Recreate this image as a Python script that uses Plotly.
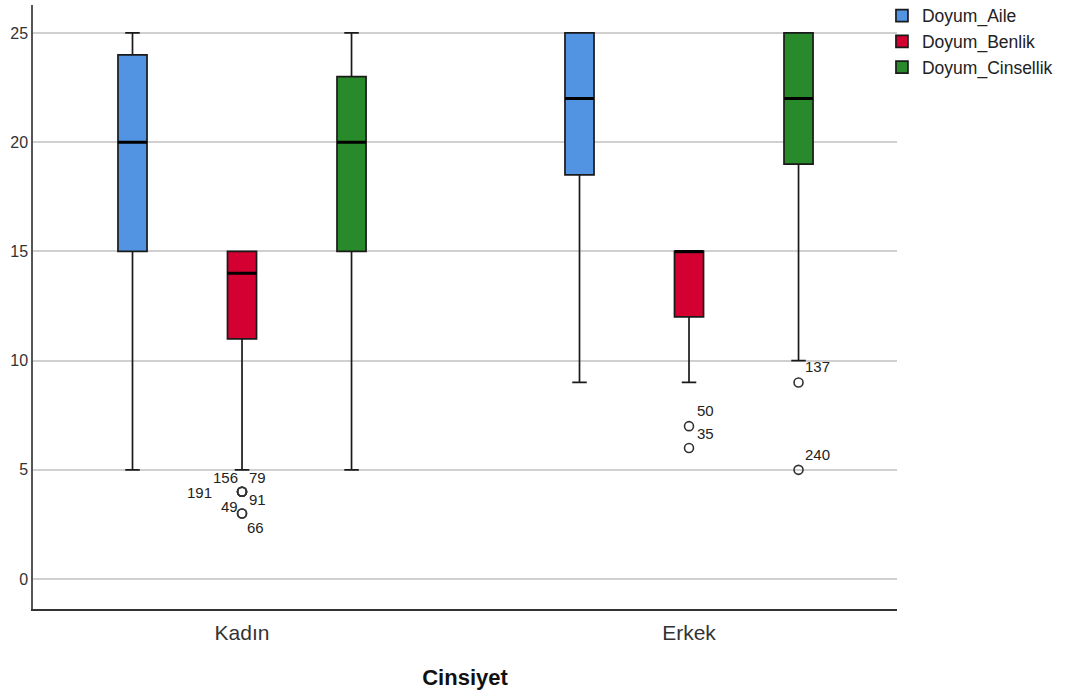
import plotly.graph_objects as go

# ---------------- data ----------------
categories = ["Kadın", "Erkek"]
series = ["Doyum_Aile", "Doyum_Benlik", "Doyum_Cinsellik"]

aile_lower = [5, 9]
aile_q1 = [15, 18.5]
aile_median = [20, 22]
aile_q3 = [24, 25]
aile_upper = [25, 25]

benlik_lower = [5, 9]
benlik_q1 = [11, 12]
benlik_median = [14, 15]
benlik_q3 = [15, 15]
benlik_upper = [15, 15]

cinsellik_lower = [5, 10]
cinsellik_q1 = [15, 19]
cinsellik_median = [20, 22]
cinsellik_q3 = [23, 25]
cinsellik_upper = [25, 25]

outlier_group = ["Kadın", "Kadın", "Kadın", "Kadın", "Kadın", "Kadın",
                 "Erkek", "Erkek", "Erkek", "Erkek"]
outlier_series = ["Doyum_Benlik"] * 8 + ["Doyum_Cinsellik"] * 2
outlier_values = [4, 4, 4, 4, 3, 3, 7, 6, 9, 5]
outlier_labels = ["156", "79", "191", "91", "49", "66", "50", "35", "137", "240"]

y_ticks = [0, 5, 10, 15, 20, 25]
x_title = "Cinsiyet"

# ---------------- styles ----------------
colors = {"Doyum_Aile": "#5294E2", "Doyum_Benlik": "#D50032", "Doyum_Cinsellik": "#288A2A"}
slot = 0.245          # offset between series within a group (axis units)
box_w = 0.065         # box width (axis units)
# label offsets in pixels (xshift, yshift) for each outlier label
label_shift = [(-17, 14), (15, 14), (-43, -1), (15, -8), (-13, 7), (13, -14),
               (16, 16), (16, 15), (19, 16), (19, 15)]
FONT = "Liberation Sans, Arial, sans-serif"

stats = {
    "Doyum_Aile": (aile_lower, aile_q1, aile_median, aile_q3, aile_upper),
    "Doyum_Benlik": (benlik_lower, benlik_q1, benlik_median, benlik_q3, benlik_upper),
    "Doyum_Cinsellik": (cinsellik_lower, cinsellik_q1, cinsellik_median, cinsellik_q3, cinsellik_upper),
}


def pos(cat, ser):
    return categories.index(cat) + (series.index(ser) - 1) * slot


fig = go.Figure()

for s in series:
    lo, q1, med, q3, up = stats[s]
    xs = [pos(c, s) for c in categories]
    fig.add_trace(go.Box(
        name=s, x=xs, q1=q1, median=med, q3=q3, lowerfence=lo, upperfence=up,
        width=box_w, whiskerwidth=0.5, fillcolor=colors[s],
        line=dict(color="#1a1a1a", width=1.7), boxpoints=False,
        showlegend=True, hoverinfo="skip",
    ))

# thick median lines
for s in series:
    lo, q1, med, q3, up = stats[s]
    xs = [pos(c, s) for c in categories]
    fig.add_trace(go.Box(
        name=s + "_median", x=xs, q1=med, median=med, q3=med, lowerfence=med, upperfence=med,
        width=box_w, whiskerwidth=0, fillcolor="rgba(0,0,0,0)",
        line=dict(color="#000000", width=3), boxpoints=False,
        showlegend=False, hoverinfo="skip",
    ))

# outliers
ox = [pos(c, s) for c, s in zip(outlier_group, outlier_series)]
fig.add_trace(go.Scatter(
    x=ox, y=outlier_values, mode="markers", showlegend=False, hoverinfo="skip",
    marker=dict(symbol="circle-open", size=9, color="#333333", line=dict(width=1.6, color="#333333")),
))
for x, y, t, (dx, dy) in zip(ox, outlier_values, outlier_labels, label_shift):
    fig.add_annotation(x=x, y=y, text=t, showarrow=False, xshift=dx, yshift=dy,
                       font=dict(family=FONT, size=15, color="#222222"))

fig.update_layout(
    width=1070, height=698,
    margin=dict(l=33, r=173, t=5, b=89, autoexpand=False),
    paper_bgcolor="white", plot_bgcolor="white",
    font=dict(family=FONT, color="#333333"),
    legend=dict(x=0.9826, xanchor="left", y=1.012, yanchor="top",
                font=dict(family=FONT, size=17.5, color="#222222"),
                bgcolor="rgba(0,0,0,0)", tracegroupgap=0),
)
fig.update_xaxes(
    range=[-0.4676, 1.4653], tickvals=[0, 1], ticktext=categories, automargin=False,
    showgrid=False, zeroline=False, showline=True, linecolor="#333333", linewidth=1.5,
    ticks="", ticklabelstandoff=4, tickfont=dict(family=FONT, size=21, color="#333333"),
    title=dict(text="<b>" + x_title + "</b>", font=dict(family=FONT, size=22, color="#111111"), standoff=27),
)
fig.update_yaxes(
    range=[-1.37, 26.28], tickvals=y_ticks, showgrid=True, gridcolor="#d0d0d0", gridwidth=1.5,
    zeroline=False, showline=True, linecolor="#555555", linewidth=1.5, ticks="", automargin=False,
    tickfont=dict(family=FONT, size=16, color="#333333"),
)

fig.write_html("out.html", config={"displayModeBar": False},
               post_script="document.body.style.margin='0';")
